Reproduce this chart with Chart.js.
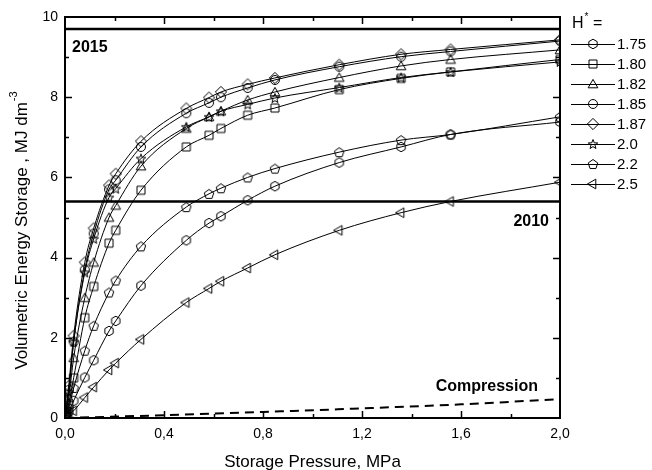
<!DOCTYPE html>
<html lang="en">
    <head>
        <meta charset="UTF-8" />
        <title>Volumetric Energy Storage</title>
        <script src="https://cdn.jsdelivr.net/npm/chart.js"></script>
        <style>
            body {
                margin: 0;
                background: #fff;
            }
            #wrap {
                width: 652px;
                height: 470px;
            }
        </style>
    </head>
    <body>
        <div id="wrap"><canvas id="myChart"></canvas></div>

        <script>
            const pressure = [0.005, 0.015, 0.035, 0.08, 0.116, 0.178, 0.205, 0.307, 0.49, 0.582, 0.63, 0.738, 0.848, 1.108, 1.358, 1.558, 2.0]
            const hValues = ['1.75', '1.80', '1.82', '1.85', '1.87', '2.0', '2.2', '2.5']
            const storage175 = [0.05, 0.15, 0.43, 1.01, 1.44, 2.17, 2.42, 3.3, 4.43, 4.86, 5.03, 5.43, 5.78, 6.37, 6.76, 7.07, 7.38]
            const storage180 = [0.1, 0.35, 1.0, 2.5, 3.28, 4.36, 4.68, 5.68, 6.76, 7.05, 7.22, 7.55, 7.73, 8.19, 8.47, 8.63, 8.94]
            const storage182 = [0.15, 0.5, 1.5, 3.0, 3.88, 5.0, 5.3, 6.28, 7.22, 7.51, 7.65, 7.93, 8.13, 8.49, 8.78, 8.94, 9.18]
            const storage185 = [0.2, 0.7, 1.9, 3.7, 4.6, 5.7, 5.93, 6.76, 7.6, 7.86, 8.0, 8.23, 8.43, 8.76, 9.01, 9.14, 9.4]
            const storage187 = [0.25, 0.8, 2.05, 3.88, 4.73, 5.8, 6.09, 6.9, 7.72, 7.99, 8.13, 8.32, 8.48, 8.81, 9.07, 9.19, 9.43]
            const storage20 = [0.2, 0.65, 1.9, 3.63, 4.47, 5.5, 5.72, 6.47, 7.26, 7.51, 7.65, 7.82, 7.98, 8.24, 8.49, 8.63, 8.88]
            const storage22 = [0.08, 0.25, 0.75, 1.68, 2.3, 3.13, 3.43, 4.28, 5.26, 5.59, 5.73, 6.0, 6.22, 6.63, 6.93, 7.07, 7.51]
            const storage25 = [0.03, 0.08, 0.18, 0.51, 0.77, 1.2, 1.37, 1.96, 2.88, 3.23, 3.41, 3.74, 4.07, 4.68, 5.12, 5.4, 5.88]

            const compressionP = [0, 0.4, 0.8, 1.2, 1.6, 2.0]
            const compressionE = [0, 0.07, 0.15, 0.24, 0.34, 0.47]
            const target2010 = 5.4
            const target2015 = 9.7

            const FONT = '"Liberation Sans", Arial, Helvetica, sans-serif'

            // open marker glyphs drawn on small canvases, used as pointStyle
            function makeMarker(shape) {
                const size = 16
                const c = document.createElement('canvas')
                c.width = size
                c.height = size
                const ctx = c.getContext('2d')
                const cx = size / 2
                const cy = size / 2
                ctx.strokeStyle = '#000'
                ctx.lineWidth = 1
                ctx.beginPath()
                const poly = (n, r, rot, dy = 0) => {
                    for (let i = 0; i < n; i++) {
                        const a = rot + (i * 2 * Math.PI) / n
                        const px = cx + r * Math.cos(a)
                        const py = cy + dy + r * Math.sin(a)
                        if (i === 0) ctx.moveTo(px, py)
                        else ctx.lineTo(px, py)
                    }
                    ctx.closePath()
                }
                if (shape === 'hexagon') poly(6, 4.8, -Math.PI / 2)
                else if (shape === 'square') ctx.rect(cx - 4, cy - 4, 8, 8)
                else if (shape === 'triangle') poly(3, 5.6, -Math.PI / 2, 1)
                else if (shape === 'circle') ctx.arc(cx, cy, 4.5, 0, Math.PI * 2)
                else if (shape === 'diamond') poly(4, 5.6, -Math.PI / 2)
                else if (shape === 'pentagon') poly(5, 5, -Math.PI / 2, 0.5)
                else if (shape === 'left') poly(3, 5.6, Math.PI, 0)
                else if (shape === 'star') {
                    for (let i = 0; i < 10; i++) {
                        const r = i % 2 === 0 ? 5 : 2.1
                        const a = -Math.PI / 2 + (i * Math.PI) / 5
                        const px = cx + r * Math.cos(a)
                        const py = cy + 0.5 + r * Math.sin(a)
                        if (i === 0) ctx.moveTo(px, py)
                        else ctx.lineTo(px, py)
                    }
                    ctx.closePath()
                }
                ctx.stroke()
                return c
            }

            const shapes = ['hexagon', 'square', 'triangle', 'circle', 'diamond', 'star', 'pentagon', 'left']
            const markers = shapes.map(makeMarker)
            const seriesValues = [storage175, storage180, storage182, storage185, storage187, storage20, storage22, storage25]

            const toPoints = (xs, ys) => xs.map((x, i) => ({ x: x, y: ys[i] }))

            const seriesSets = seriesValues.map((values, index) => {
                return {
                    label: hValues[index],
                    data: toPoints(pressure, values),
                    borderColor: '#000',
                    borderWidth: 1,
                    pointStyle: markers[index],
                    pointRadius: 5,
                    cubicInterpolationMode: 'monotone',
                    clip: 0,
                }
            })

            const targetLine = (y) => ({
                data: [{ x: 0, y: y }, { x: 2, y: y }],
                borderColor: '#000',
                borderWidth: 2.5,
                pointRadius: 0,
                clip: 0,
            })

            const data = {
                datasets: [
                    targetLine(target2015),
                    targetLine(target2010),
                    {
                        data: toPoints(compressionP, compressionE),
                        borderColor: '#000',
                        borderWidth: 2,
                        borderDash: [9, 6],
                        pointRadius: 0,
                        cubicInterpolationMode: 'monotone',
                    },
                    ...seriesSets,
                ],
            }

            const frame = {
                id: 'frame',
                afterDraw(chart) {
                    const { ctx, chartArea: a, scales } = chart
                    const x = scales.x
                    const y = scales.y
                    ctx.save()
                    ctx.strokeStyle = '#000'
                    ctx.fillStyle = '#000'

                    // inward ticks on all four sides
                    ctx.lineWidth = 1.5
                    ctx.beginPath()
                    x.ticks.forEach((t) => {
                        if (t.value <= 0 || t.value >= 2) return
                        const px = Math.round(x.getPixelForValue(t.value)) + 0.5
                        const len = t.label ? 7 : 4
                        ctx.moveTo(px, a.bottom)
                        ctx.lineTo(px, a.bottom - len)
                        ctx.moveTo(px, a.top)
                        ctx.lineTo(px, a.top + len)
                    })
                    y.ticks.forEach((t) => {
                        if (t.value <= 0 || t.value >= 10) return
                        const py = Math.round(y.getPixelForValue(t.value)) + 0.5
                        const len = t.label ? 7 : 4
                        ctx.moveTo(a.left, py)
                        ctx.lineTo(a.left + len, py)
                        ctx.moveTo(a.right, py)
                        ctx.lineTo(a.right - len, py)
                    })
                    ctx.stroke()

                    ctx.lineWidth = 2
                    ctx.strokeRect(a.left, a.top, a.right - a.left, a.bottom - a.top)

                    // annotations
                    ctx.font = 'bold 16px ' + FONT
                    ctx.textBaseline = 'middle'
                    ctx.textAlign = 'left'
                    ctx.fillText('2015', 72, 48)
                    ctx.textAlign = 'right'
                    ctx.fillText('2010', 549, 222)
                    ctx.fillText('Compression', 538, 387)

                    // axis titles
                    ctx.font = '17px ' + FONT
                    ctx.textAlign = 'center'
                    ctx.fillText('Storage Pressure, MPa', (a.left + a.right) / 2, 462)

                    ctx.save()
                    ctx.translate(22, 231)
                    ctx.rotate(-Math.PI / 2)
                    const main = 'Volumetric Energy Storage , MJ dm'
                    ctx.font = '17px ' + FONT
                    const w1 = ctx.measureText(main).width
                    ctx.font = '11px ' + FONT
                    const w2 = ctx.measureText('-3').width
                    const start = -(w1 + w2) / 2
                    ctx.textAlign = 'left'
                    ctx.font = '17px ' + FONT
                    ctx.fillText(main, start, 0)
                    ctx.font = '11px ' + FONT
                    ctx.fillText('-3', start + w1 + 1, -8)
                    ctx.restore()

                    // legend
                    ctx.textAlign = 'left'
                    ctx.font = '16px ' + FONT
                    ctx.fillText('H', 572, 24)
                    const hw = ctx.measureText('H').width
                    ctx.font = '10px ' + FONT
                    ctx.fillText('*', 572 + hw + 1, 17)
                    ctx.font = '16px ' + FONT
                    ctx.fillText(' =', 572 + hw + 5, 24)

                    ctx.font = '15px ' + FONT
                    ctx.lineWidth = 1
                    hValues.forEach((label, i) => {
                        const ly = 44 + i * 20
                        ctx.beginPath()
                        ctx.moveTo(571, ly + 0.5)
                        ctx.lineTo(615, ly + 0.5)
                        ctx.stroke()
                        const m = markers[i]
                        ctx.drawImage(m, 593 - m.width / 2, ly - m.height / 2)
                        ctx.fillText(label, 617, ly + 1)
                    })
                    ctx.restore()
                },
            }

            const config = {
                type: 'line',
                data: data,
                options: {
                    responsive: true,
                    maintainAspectRatio: false,
                    animation: false,
                    layout: {
                        padding: { left: 0, right: 92, top: 17, bottom: 0 },
                    },
                    plugins: {
                        legend: { display: false },
                        tooltip: { enabled: false },
                    },
                    scales: {
                        x: {
                            type: 'linear',
                            min: 0,
                            max: 2,
                            grid: { display: false, drawTicks: false },
                            border: { display: false },
                            afterFit(scale) {
                                scale.height = 52
                            },
                            ticks: {
                                stepSize: 0.2,
                                autoSkip: false,
                                maxRotation: 0,
                                padding: 8,
                                color: '#000',
                                font: { family: FONT, size: 14 },
                                callback: (v) => {
                                    const k = v / 0.4
                                    return Math.abs(k - Math.round(k)) < 1e-6 ? v.toFixed(1).replace('.', ',') : ''
                                },
                            },
                        },
                        y: {
                            min: 0,
                            max: 10,
                            grid: { display: false, drawTicks: false },
                            border: { display: false },
                            afterFit(scale) {
                                scale.width = 65
                            },
                            ticks: {
                                stepSize: 1,
                                autoSkip: false,
                                padding: 7,
                                color: '#000',
                                font: { family: FONT, size: 14 },
                                callback: (v) => (v % 2 === 0 ? String(v) : ''),
                            },
                        },
                    },
                },
                plugins: [frame],
            }

            const myChart = new Chart(document.getElementById('myChart'), config)
        </script>
    </body>
</html>
